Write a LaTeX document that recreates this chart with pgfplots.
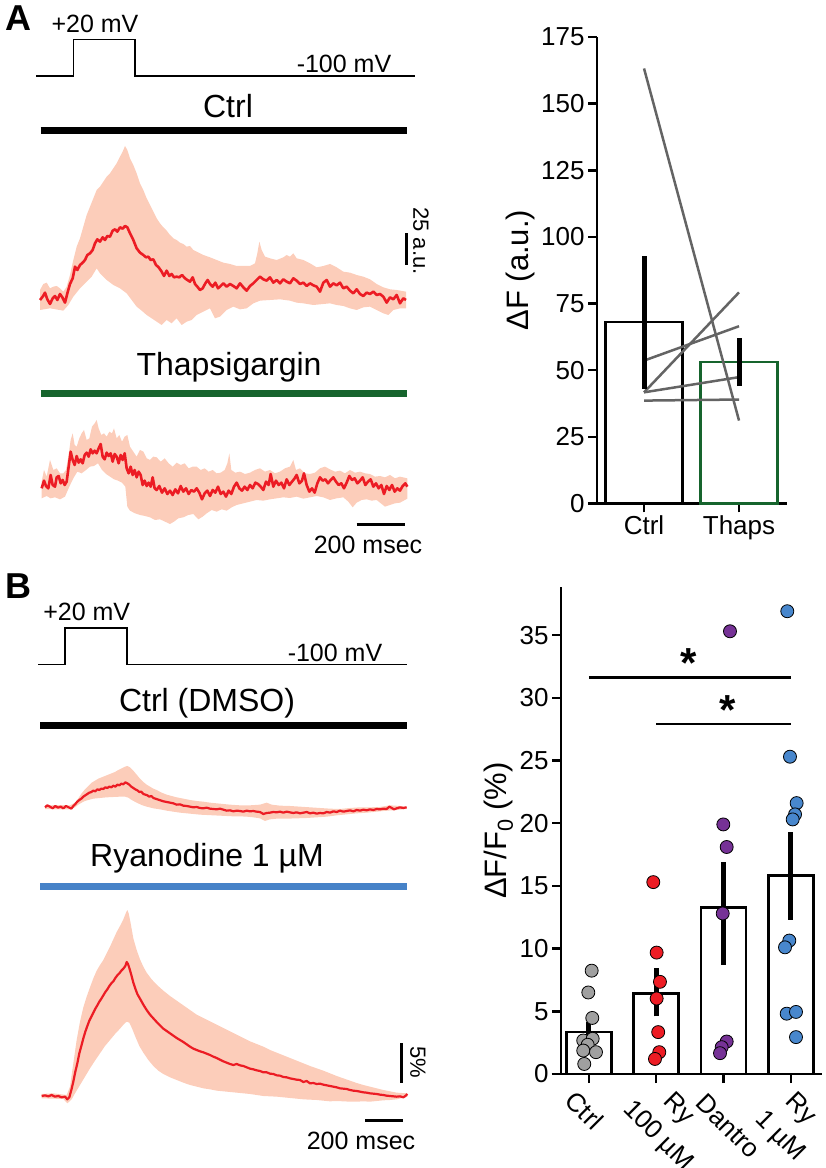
\documentclass[border=0pt]{standalone}
\usepackage{fontspec}
\setmainfont{Liberation Sans}
\usepackage{pgfplots}
\pgfplotsset{compat=1.18}
\definecolor{shade}{RGB}{252,205,186}
\definecolor{tred}{RGB}{236,28,36}
\definecolor{thapsgreen}{RGB}{22,100,45}
\definecolor{rblue}{RGB}{70,130,200}
\definecolor{ptgray}{RGB}{160,160,160}
\definecolor{ptred}{RGB}{237,28,36}
\definecolor{ptpurple}{RGB}{118,50,150}
\definecolor{ptblue}{RGB}{72,135,205}
\definecolor{pairgray}{RGB}{100,100,100}
\newcommand{\fsz}[1]{\fontsize{#1pt}{#1pt}\selectfont}
\pgfplotsset{
  trace/.style={hide axis, scale only axis, anchor=north west, xmin=0, xmax=1170, ymin=0, y dir=reverse, clip=false, width=390pt},
  tline/.style={color=tred, line width=2.6pt, line join=round, mark=none},
  env/.style={fill=shade, draw=none, mark=none},
  barax/.style={scale only axis, anchor=south west, axis x line*=bottom, axis y line*=left,
    axis line style={-, line width=2.5pt}, tick align=outside, major tick length=9pt,
    tick style={black, line width=2.5pt}, tick label style={font=\fsz{26}}, label style={font=\fsz{31}},
    /pgf/number format/assume math mode=true, clip=false},
}
\begin{document}
\begin{tikzpicture}
\useasboundingbox (0,0) rectangle (826pt,1168pt);
% ---------------- A: Ctrl trace (upper envelope L->R, then lower envelope R->L)
\begin{axis}[trace, at={(30pt,1028pt)}, height=190pt, ymax=570]
\addplot[env] coordinates {(30,450)(40,432)(50,428)(60,445)(70,440)(80,438)(90,445)(100,455)(110,440)(120,405)(130,360)(140,320)(150,295)(160,260)(170,225)(180,200)(190,175)(200,150)(210,140)(220,125)(230,110)(240,100)(250,85)(260,70)(270,50)(278,35)(285,18)(292,30)(300,55)(310,75)(320,100)(330,130)(340,150)(350,175)(360,195)(370,215)(380,235)(390,250)(400,262)(410,272)(420,285)(430,295)(440,300)(450,308)(460,312)(470,320)(480,318)(490,330)(500,335)(510,340)(520,345)(540,352)(560,360)(580,368)(600,372)(620,378)(640,378)(660,378)(675,370)(682,340)(688,305)(695,330)(705,350)(720,355)(740,360)(760,352)(770,345)(780,350)(790,340)(800,355)(820,360)(840,370)(860,382)(880,378)(900,372)(920,382)(940,395)(960,398)(980,405)(1000,410)(1020,418)(1040,432)(1060,442)(1080,448)(1100,450)(1128,455)
(1128,505)(1110,505)(1090,510)(1075,525)(1060,520)(1040,510)(1020,500)(1000,502)(980,510)(960,505)(940,498)(920,495)(900,490)(880,492)(850,495)(820,490)(800,488)(780,482)(750,478)(720,480)(690,482)(670,490)(650,505)(630,508)(610,500)(590,510)(570,530)(555,535)(540,505)(520,515)(500,525)(485,540)(470,545)(455,555)(440,535)(425,550)(410,540)(395,555)(380,545)(365,535)(350,525)(335,512)(320,500)(305,480)(290,460)(270,445)(250,435)(230,420)(210,400)(200,385)(185,410)(170,425)(150,445)(130,470)(115,495)(100,512)(60,505)(30,510)};
\addplot[tline] coordinates {(30,480)(38,470)(45,458)(52,478)(60,492)(68,475)(75,468)(82,480)(90,462)(97,472)(105,488)(112,460)(120,432)(128,415)(135,380)(142,390)(150,375)(158,368)(165,360)(172,345)(180,340)(188,330)(195,310)(202,298)(210,305)(218,292)(225,300)(232,288)(240,290)(248,272)(255,268)(262,275)(270,262)(278,266)(285,258)(292,262)(300,280)(310,300)(320,325)(330,338)(340,345)(348,352)(355,350)(362,360)(370,358)(378,375)(386,382)(395,395)(402,408)(410,392)(418,408)(425,402)(432,412)(440,410)(448,412)(456,405)(465,415)(472,420)(480,425)(488,412)(495,432)(502,440)(510,450)(518,445)(526,430)(533,420)(540,432)(548,440)(556,428)(564,445)(572,438)(580,430)(590,440)(600,432)(610,438)(620,445)(630,430)(640,442)(650,452)(660,438)(670,430)(680,420)(690,410)(700,418)(710,422)(720,412)(730,428)(740,420)(750,430)(760,418)(770,425)(780,430)(790,415)(800,422)(810,432)(820,428)(830,438)(840,430)(850,436)(860,440)(870,455)(880,428)(890,420)(900,440)(910,430)(920,436)(930,428)(940,445)(950,440)(960,452)(970,460)(980,448)(990,462)(1000,468)(1010,458)(1020,462)(1030,455)(1040,465)(1050,462)(1060,470)(1070,488)(1080,472)(1090,478)(1100,465)(1110,490)(1120,475)(1128,480)};
\end{axis}
% ---------------- A: Thapsigargin trace
\begin{axis}[trace, at={(30pt,748pt)}, height=140pt, ymax=420]
\addplot[env] coordinates {(35,185)(42,150)(50,170)(60,120)(70,150)(80,145)(90,160)(100,160)(108,150)(115,110)(122,60)(128,40)(134,75)(140,80)(148,55)(155,40)(162,30)(170,60)(178,55)(186,20)(194,10)(200,0)(206,25)(214,45)(222,40)(230,50)(238,35)(246,40)(252,25)(260,55)(268,45)(276,65)(284,50)(292,45)(300,80)(310,95)(320,110)(330,90)(340,95)(350,115)(360,120)(370,110)(380,112)(392,125)(404,115)(416,130)(428,140)(440,128)(452,135)(464,130)(476,145)(488,140)(500,140)(512,150)(524,145)(536,155)(548,150)(560,160)(572,158)(584,150)(592,130)(598,100)(604,150)(616,158)(630,155)(645,162)(660,158)(675,150)(690,145)(705,155)(720,150)(735,160)(750,155)(765,145)(780,140)(790,120)(798,150)(810,145)(825,160)(840,162)(855,158)(870,145)(885,140)(900,148)(915,155)(930,152)(945,160)(960,150)(975,158)(990,155)(1005,160)(1020,162)(1035,170)(1050,168)(1065,172)(1080,165)(1095,175)(1110,170)(1132,175)
(1132,236)(1110,248)(1095,250)(1080,255)(1065,260)(1055,252)(1040,240)(1025,242)(1010,238)(995,240)(980,248)(968,262)(955,245)(940,232)(920,235)(900,240)(880,232)(860,228)(840,232)(820,236)(800,230)(780,234)(760,232)(740,235)(720,238)(700,242)(680,240)(660,245)(640,250)(620,255)(605,262)(590,272)(575,268)(560,275)(545,270)(530,280)(518,290)(505,298)(490,282)(475,285)(460,292)(445,295)(432,305)(420,312)(405,305)(390,298)(375,300)(360,292)(345,288)(330,285)(315,280)(300,272)(292,260)(286,200)(276,188)(264,182)(252,178)(240,170)(228,162)(216,150)(204,130)(192,138)(180,140)(168,150)(155,160)(142,155)(130,175)(118,200)(105,230)(90,238)(75,232)(62,235)(50,228)(35,235)};
\addplot[tline] coordinates {(35,205)(42,182)(48,198)(55,205)(62,165)(68,195)(75,200)(80,172)(86,168)(92,190)(98,180)(104,195)(110,185)(116,140)(122,95)(128,120)(134,135)(140,108)(146,128)(152,118)(158,130)(164,105)(170,98)(176,110)(182,88)(188,100)(194,92)(200,100)(206,85)(212,72)(218,110)(224,118)(230,98)(236,108)(242,100)(248,125)(254,102)(260,110)(266,130)(272,105)(278,120)(284,100)(290,145)(296,160)(302,140)(308,165)(314,150)(320,172)(326,155)(332,165)(338,195)(344,182)(350,198)(356,188)(362,200)(368,172)(374,205)(380,210)(388,198)(396,218)(404,205)(412,222)(420,212)(428,225)(436,208)(444,220)(452,198)(460,215)(468,205)(476,222)(484,210)(492,215)(500,205)(508,218)(516,238)(524,220)(532,212)(540,228)(548,210)(556,218)(564,200)(572,222)(580,215)(588,230)(596,212)(604,222)(612,200)(620,188)(628,205)(636,212)(644,200)(652,210)(660,195)(668,205)(676,188)(684,192)(692,200)(700,210)(708,185)(716,195)(722,162)(730,200)(738,182)(746,195)(754,188)(762,205)(770,178)(778,195)(786,185)(794,175)(800,165)(808,190)(816,182)(822,160)(830,195)(838,215)(846,205)(854,218)(862,190)(870,172)(878,182)(886,178)(894,190)(902,180)(910,172)(918,185)(926,195)(934,190)(942,205)(950,188)(958,168)(966,180)(974,175)(982,190)(990,182)(998,172)(1006,195)(1014,185)(1022,178)(1030,200)(1038,190)(1046,205)(1054,195)(1062,222)(1070,198)(1078,210)(1086,195)(1094,215)(1102,205)(1110,212)(1118,198)(1126,190)(1132,200)};
\end{axis}
% ---------------- B: Ctrl (DMSO) trace
\begin{axis}[trace, at={(30pt,418pt)}, height=100pt, ymax=300]
\addplot[env] coordinates {(45,167)(80,165)(120,166)(135,158)(145,145)(155,130)(165,118)(175,108)(185,98)(195,92)(205,86)(215,82)(225,78)(235,74)(245,70)(255,66)(265,60)(275,55)(285,50)(292,48)(300,52)(310,62)(320,74)(330,86)(340,96)(350,104)(360,110)(370,116)(380,120)(395,128)(410,134)(425,138)(440,142)(460,146)(480,150)(500,153)(520,155)(540,158)(560,160)(580,162)(600,164)(630,166)(660,166)(690,164)(710,158)(725,164)(750,167)(780,168)(810,170)(840,172)(870,174)(900,176)(930,177)(960,174)(990,172)(1020,172)(1050,171)(1080,166)(1110,168)(1130,170)
(1130,177)(1100,180)(1070,182)(1040,185)(1010,188)(980,190)(950,193)(920,196)(890,200)(860,202)(830,204)(800,205)(770,206)(740,206)(720,208)(705,213)(690,205)(670,202)(650,200)(630,199)(610,199)(590,198)(570,197)(550,196)(530,195)(510,194)(490,192)(470,190)(450,188)(430,185)(410,182)(390,178)(370,175)(350,170)(335,165)(320,158)(305,150)(295,143)(285,140)(270,140)(250,141)(230,142)(210,144)(190,146)(175,150)(165,153)(155,158)(145,164)(135,172)(120,178)(80,178)(45,177)};
\addplot[tline, line width=2.2pt] coordinates {(45,172)(52,166)(60,170)(68,175)(76,168)(84,173)(92,170)(100,175)(108,168)(116,172)(124,176)(130,168)(136,162)(142,155)(148,150)(154,146)(160,140)(166,136)(172,132)(178,128)(184,126)(190,122)(196,124)(202,118)(208,120)(214,116)(220,117)(226,112)(232,114)(238,110)(244,112)(250,107)(256,110)(262,104)(268,106)(274,101)(280,103)(286,97)(292,100)(298,104)(304,110)(310,114)(316,118)(322,121)(328,126)(334,125)(340,132)(346,134)(352,136)(358,140)(364,138)(370,144)(376,146)(382,148)(388,150)(394,152)(400,154)(410,156)(420,158)(430,160)(440,164)(450,163)(460,167)(470,168)(480,170)(490,172)(500,171)(510,174)(520,175)(530,173)(540,176)(550,177)(560,178)(570,176)(580,179)(590,182)(600,181)(610,184)(620,182)(630,183)(640,185)(650,182)(660,184)(670,183)(680,185)(690,186)(700,192)(710,189)(720,188)(730,186)(740,187)(750,185)(760,188)(770,185)(780,187)(790,189)(800,187)(810,190)(820,188)(830,186)(840,190)(850,188)(860,191)(870,189)(880,190)(890,186)(900,188)(910,184)(920,186)(930,182)(940,185)(950,183)(960,181)(970,184)(980,180)(990,182)(1000,179)(1010,181)(1020,178)(1030,180)(1040,177)(1050,178)(1060,176)(1070,177)(1078,170)(1085,174)(1092,178)(1100,175)(1110,172)(1120,174)(1130,172)};
\end{axis}
% ---------------- B: Ryanodine trace
\begin{axis}[trace, at={(30pt,268pt)}, height=230pt, ymax=690]
\addplot[env] coordinates {(35,582)(70,580)(110,585)(120,560)(130,490)(140,420)(150,365)(160,322)(170,290)(180,262)(190,235)(200,212)(210,195)(220,180)(230,160)(240,140)(250,118)(260,96)(270,78)(280,58)(288,38)(292,30)(296,40)(302,70)(310,115)(320,150)(330,178)(340,200)(350,218)(365,238)(380,254)(400,272)(420,288)(440,302)(460,316)(480,330)(500,344)(520,354)(540,364)(560,374)(580,384)(600,394)(620,404)(640,414)(660,424)(680,432)(700,440)(720,450)(740,458)(760,466)(780,474)(800,482)(820,490)(840,498)(860,505)(880,512)(900,520)(920,528)(940,535)(960,542)(980,549)(1000,555)(1020,560)(1040,565)(1060,570)(1080,574)(1100,578)(1132,580)
(1132,590)(1100,598)(1080,600)(1060,601)(1040,603)(1020,605)(1000,604)(980,605)(960,605)(940,604)(920,603)(900,604)(880,602)(860,600)(840,599)(820,598)(800,596)(780,594)(760,592)(740,590)(720,589)(700,588)(680,585)(660,582)(640,580)(620,578)(600,576)(580,574)(560,572)(540,568)(520,565)(500,560)(480,555)(460,548)(440,540)(420,532)(400,522)(385,512)(370,498)(355,480)(340,458)(328,438)(316,410)(306,385)(298,368)(290,365)(282,372)(270,386)(255,402)(240,420)(225,438)(210,460)(195,482)(180,505)(165,530)(150,555)(135,580)(125,598)(112,610)(100,597)(70,596)(35,595)};
\addplot[tline, line width=2.2pt] coordinates {(35,588)(45,586)(55,589)(65,585)(75,590)(85,588)(95,592)(105,590)(112,598)(118,592)(124,570)(130,545)(136,515)(142,490)(148,460)(154,438)(160,415)(166,395)(172,378)(178,362)(184,350)(190,338)(196,326)(202,316)(208,305)(214,296)(220,286)(226,276)(232,268)(238,258)(244,250)(250,244)(256,234)(262,226)(268,220)(274,212)(280,206)(286,198)(290,186)(294,192)(298,204)(304,225)(310,248)(316,266)(322,282)(330,296)(340,314)(350,330)(360,344)(370,355)(380,366)(390,376)(400,386)(410,393)(420,400)(430,407)(440,414)(450,420)(460,426)(470,433)(480,440)(490,446)(500,450)(510,454)(520,457)(530,461)(540,465)(550,470)(560,474)(570,479)(580,484)(590,488)(600,492)(610,495)(620,492)(630,496)(640,498)(650,502)(660,506)(670,508)(680,511)(690,513)(700,517)(710,517)(720,521)(730,522)(740,526)(750,527)(760,531)(770,532)(780,535)(790,537)(800,539)(810,540)(820,546)(830,543)(840,550)(850,549)(860,552)(870,551)(880,554)(890,556)(900,558)(910,560)(920,562)(930,565)(940,566)(950,567)(960,570)(970,572)(980,573)(990,575)(1000,577)(1010,578)(1020,580)(1030,581)(1040,582)(1050,584)(1060,585)(1070,587)(1080,588)(1090,589)(1100,590)(1110,589)(1120,592)(1126,588)(1132,582)};
\end{axis}
% ---------------- canvas: steps, condition bars, scale bars, texts
\begin{axis}[at={(0pt,0pt)}, anchor=south west, scale only axis, width=826pt, height=1168pt,
  xmin=0, xmax=826, ymin=0, ymax=1168, y dir=reverse, hide axis, clip=false]
\addplot[black, line width=1.6pt, mark=none] coordinates {(36,76)(73.3,76)(73.3,39.3)(135,39.3)(135,76)(415,76)};
\node[font=\fsz{25}] at (axis cs:95,24) {+20 mV};
\node[font=\fsz{25}] at (axis cs:344,64) {-100 mV};
\node[font=\fsz{32}] at (axis cs:228,106) {Ctrl};
\addplot[black, line width=7pt, mark=none] coordinates {(40.7,130)(407.3,130)};
\addplot[black, line width=3pt, mark=none] coordinates {(406,233)(406,265)};
\node[font=\fsz{22}, rotate=-90] at (axis cs:421,241) {25 a.u.};
\node[font=\fsz{32}] at (axis cs:229,367) {Thapsigargin};
\addplot[thapsgreen, line width=7pt, mark=none] coordinates {(40.7,393.3)(407.3,393.3)};
\addplot[black, line width=3pt, mark=none] coordinates {(356.7,524.3)(405,524.3)};
\node[font=\fsz{25}] at (axis cs:368,545) {200 msec};
\addplot[black, line width=1.6pt, mark=none] coordinates {(38.3,664.3)(65,664.3)(65,627.7)(126.7,627.7)(126.7,664.3)(406.7,664.3)};
\node[font=\fsz{25}] at (axis cs:86.7,611.7) {+20 mV};
\node[font=\fsz{25}] at (axis cs:335,653) {-100 mV};
\node[font=\fsz{32}] at (axis cs:207,703) {Ctrl (DMSO)};
\addplot[black, line width=7pt, mark=none] coordinates {(40,725)(407,725)};
\node[font=\fsz{32}] at (axis cs:207,858) {Ryanodine 1 µM};
\addplot[rblue, line width=7pt, mark=none] coordinates {(40,886.7)(407,886.7)};
\addplot[black, line width=3pt, mark=none] coordinates {(401,1043)(401,1083)};
\node[font=\fsz{22}, rotate=-90] at (axis cs:418,1062) {5\%};
\addplot[black, line width=3pt, mark=none] coordinates {(365,1120)(403.3,1120)};
\node[font=\fsz{25}] at (axis cs:361,1141) {200 msec};
\node[font=\bfseries\fsz{36}] at (axis cs:18,18) {A};
\node[font=\bfseries\fsz{36}] at (axis cs:18,586) {B};
% rotated category labels of panel B (one node per line, as in the reference)
\node[font=\fsz{26}, rotate=-45, anchor=north west, inner sep=0pt] at (axis cs:577,1089) {Ctrl};
\node[font=\fsz{26}, rotate=-45, anchor=north west, inner sep=0pt] at (axis cs:675,1090) {Ry};
\node[font=\fsz{26}, rotate=-45, anchor=north west, inner sep=0pt] at (axis cs:635,1097) {100 µM};
\node[font=\fsz{26}, rotate=-45, anchor=north west, inner sep=0pt] at (axis cs:707,1092) {Dantro};
\node[font=\fsz{26}, rotate=-45, anchor=north west, inner sep=0pt] at (axis cs:797,1090) {Ry};
\node[font=\fsz{26}, rotate=-45, anchor=north west, inner sep=0pt] at (axis cs:767,1108) {1 µM};
\end{axis}
% ---------------- A: bar chart
\begin{axis}[barax, at={(597pt,664.5pt)}, width=190pt, height=466.5pt,
  xmin=-0.495, xmax=1.505, ymin=0, ymax=175,
  ytick={0,25,50,75,100,125,150,175}, xtick={0,1}, xticklabels={Ctrl,Thaps},
  ylabel={ΔF (a.u.)}, ylabel style={at={(axis description cs:-0.405,0.5)}, anchor=center}]
\addplot[black, line width=2.5pt, mark=none] coordinates {(-0.59,0)(-0.495,0)};
\addplot[ybar, bar width=0.81, bar shift=0pt, draw=black, fill=white, line width=2.5pt] coordinates {(0,68)};
\addplot[ybar, bar width=0.81, bar shift=0pt, draw=thapsgreen, fill=white, line width=2.5pt] coordinates {(1,53)};
\addplot[pairgray, line width=2.5pt, mark=none] coordinates {(0,163.2)(1,31.1)};
\addplot[pairgray, line width=2.5pt, mark=none] coordinates {(0,53.6)(1,66.5)};
\addplot[pairgray, line width=2.5pt, mark=none] coordinates {(0,41.7)(1,79.2)};
\addplot[pairgray, line width=2.5pt, mark=none] coordinates {(0,41.7)(1,47.4)};
\addplot[pairgray, line width=2.5pt, mark=none] coordinates {(0,38.6)(1,39.0)};
\addplot[black, line width=5pt, mark=none] coordinates {(0,43)(0,93)};
\addplot[black, line width=5pt, mark=none] coordinates {(1,44)(1,62)};
\end{axis}
% ---------------- B: bar chart
\begin{axis}[barax, at={(561pt,94pt)}, width=261pt, height=486.6pt,
  xmin=-0.412, xmax=3.46, ymin=0, ymax=38.8,
  ytick={0,5,10,15,20,25,30,35}, xtick={0,1,2,3}, xticklabels={,,,},
  ylabel={ΔF/F\textsubscript{0} (\%)}, ylabel style={at={(axis description cs:-0.24,0.5)}, anchor=center}]
\addplot[black, line width=2.5pt, mark=none] coordinates {(-0.55,0)(-0.412,0)};
\addplot[ybar, bar width=0.667, bar shift=0pt, draw=black, fill=white, line width=2.5pt] coordinates {(0,3.35)(1,6.42)(2,13.26)(3,15.84)};
\addplot[only marks, mark=*, mark size=6.5pt, mark options={fill=ptgray, draw=black, line width=0.8pt}] coordinates {(0.043,8.24)(-0.007,6.5)(0.052,4.47)(-0.082,2.67)(0.058,2.81)(-0.016,2.33)(-0.082,1.87)(0.107,1.74)(-0.067,0.8)};
\addplot[only marks, mark=*, mark size=6.5pt, mark options={fill=ptred, draw=black, line width=0.8pt}] coordinates {(0.957,15.3)(1.007,9.68)(1.056,7.35)(1.007,6.02)(1.03,3.34)(1.046,1.74)(0.982,1.2)};
\addplot[only marks, mark=*, mark size=6.5pt, mark options={fill=ptpurple, draw=black, line width=0.8pt}] coordinates {(2.095,35.3)(1.996,19.9)(2.046,18.1)(1.987,12.8)(2.046,2.59)(1.972,2.14)(1.947,1.66)};
\addplot[only marks, mark=*, mark size=6.5pt, mark options={fill=ptblue, draw=black, line width=0.8pt}] coordinates {(2.945,36.9)(2.985,25.3)(3.084,21.6)(3.06,20.7)(3.025,20.3)(2.975,10.64)(2.911,10.1)(2.936,4.81)(3.074,4.95)(3.074,2.94)};
\addplot[black, line width=5pt, mark=none] coordinates {(0,2.52)(0,4.15)};
\addplot[black, line width=5pt, mark=none] coordinates {(1,4.59)(1,8.44)};
\addplot[black, line width=5pt, mark=none] coordinates {(2,8.73)(2,16.9)};
\addplot[black, line width=5pt, mark=none] coordinates {(3,12.3)(3,19.3)};
\addplot[black, line width=2.7pt, mark=none] coordinates {(0,31.6)(3,31.6)};
\addplot[black, line width=2.7pt, mark=none] coordinates {(1,27.9)(3,27.9)};
\node[font=\bfseries\fsz{42}, anchor=base] at (axis cs:1.487,31.6) {*};
\node[font=\bfseries\fsz{42}, anchor=base] at (axis cs:2.06,27.9) {*};
\end{axis}
\end{tikzpicture}
\end{document}
